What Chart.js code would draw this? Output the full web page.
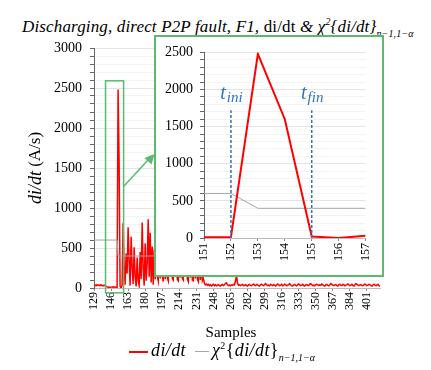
<!DOCTYPE html>
<html>
<head>
<meta charset="utf-8">
<script src="https://cdn.jsdelivr.net/npm/chart.js@4/dist/chart.umd.min.js"></script>
<style>
  body { margin: 0; background: #fff; width: 431px; height: 370px; overflow: hidden; position: relative; font-family: "Liberation Serif", serif; color: #000; }
  .txt { position: absolute; white-space: nowrap; }
  #title { left: 22px; top: 12px; font-size: 17px; line-height: 20px; font-style: italic; letter-spacing: 0.15px; }
  #title .up { font-style: normal; }
  #title sup { font-size: 10px; vertical-align: 7px; }
  #title sub { font-size: 10px; vertical-align: -5px; }
  #mainChart { position: absolute; left: 0; top: 0; }
  #insetBox { position: absolute; left: 154px; top: 35px; width: 230px; height: 242px; box-sizing: border-box; border: 2px solid #5cb96e; background: #fff; }
  #insetChart { position: absolute; left: 0; top: 0; }
  #xTitle { left: 190px; width: 82px; text-align: center; top: 324px; font-size: 15px; line-height: 16px; }
  #legend { left: 129px; top: 336px; font-size: 18px; line-height: 20px; letter-spacing: 0.4px; }
  #legend .ln { display: inline-block; vertical-align: middle; margin-right: 3px; }
  #legend .red { width: 19px; height: 2px; background: #ff0000; }
  #legend .grey { width: 14px; height: 1px; background: #a6a6a6; margin-left: 9px; }
  #legend sup { font-size: 10px; vertical-align: 7px; }
  #legend sub { font-size: 10px; vertical-align: -5px; font-style: italic; letter-spacing: 0; }
</style>
</head>
<body>
<div id="title" class="txt">Discharging, direct P2P fault, F1, <span class="up">di/dt</span> &amp; χ<sup>2</sup>{di/dt}<sub>n−1,1−α</sub></div>
<canvas id="mainChart" width="431" height="370"></canvas>
<div id="insetBox"><canvas id="insetChart" width="226" height="238"></canvas></div>
<div id="xTitle" class="txt">Samples</div>
<div id="legend" class="txt"><span class="ln red"></span><i>di/dt</i><span class="ln grey"></span><i>χ</i><sup>2</sup>{<i>di/dt</i>}<sub>n−1,1−α</sub></div>
<script>
// main chart: di/dt per sample, starting at sample 129
const firstSample = 129;
const mainDidt = [
  // 129-151
  30, 38, 28, 42, 33, 36, 27, 40, 31, 26, 36, 30, 20, 14, 10, 12, 8, 11, 13, 9, 14, 10, 10,
  // 152-157 (fault)
  10, 2480, 1600, 20, 0, 30,
  // 158-240
  810, 280, 40, 430, 180, 760, 330, 30, 640, 260,
  50, 510, 140, 20, 380, 90, 30, 450, 110, 820,
  240, 30, 560, 90, 310, 860, 140, 690, 70, 520,
  40, 480, 110, 620, 150, 90, 540, 120, 700, 160,
  80, 480, 110, 650, 130, 90, 590, 150, 720, 120,
  100, 520, 140, 610, 110, 90, 450, 130, 680, 120,
  100, 560, 140, 500, 110, 80, 620, 130, 470, 100,
  90, 540, 120, 430, 110, 80, 380, 100, 300, 90,
  120, 60, 40,
  // 241-414
  50, 35, 45, 30, 40, 25, 35, 45, 30, 40,
  28, 36, 42, 30, 25, 38, 45, 32, 40, 55,
  65, 40, 30, 35, 28, 40, 33, 45, 38, 90,
  160, 60, 35, 40, 30, 38, 45, 30, 35, 42,
  30, 25, 38, 45, 32, 28, 40, 50, 35, 30,
  45, 38, 30, 25, 40, 48, 35, 30, 42, 55,
  40, 30, 35, 28, 45, 38, 30, 42, 35, 25,
  38, 50, 40, 30, 35, 45, 28, 32, 48, 40,
  30, 35, 42, 55, 38, 30, 25, 40, 45, 33,
  28, 40, 52, 38, 30, 35, 45, 30, 25, 38,
  42, 35, 30, 48, 55, 40, 30, 35, 28, 40,
  45, 38, 30, 42, 35, 50, 40, 30, 25, 38,
  45, 33, 28, 40, 55, 45, 35, 30, 38, 42,
  30, 25, 40, 48, 35, 30, 45, 38, 28, 35,
  42, 50, 38, 30, 35, 45, 30, 25, 40, 55,
  45, 35, 30, 38, 42, 30, 28, 40, 50, 38,
  30, 35, 45, 40, 30, 25, 38, 48, 35, 30,
  40, 45, 30, 20
];
// chi-square threshold: steps from 600 to 400
const chiMain = [
  { x: 129, y: 600 }, { x: 152, y: 600 }, { x: 153, y: 400 }, { x: 414, y: 400 }
];
const mainTicks = [129, 146, 163, 180, 197, 214, 231, 248, 265, 282, 299, 316, 333, 350, 367, 384, 401];

// inset (zoom on the fault)
const insetSamples = [151, 152, 153, 154, 155, 156, 157];
const insetDidt = [10, 10, 2480, 1600, 20, 0, 30];
const insetChi = [600, 600, 400, 400, 400, 400, 400];
const markerSamples = [152, 155];
const markerSubs = ['ini', 'fin'];
const markerTop = 1720;

const green = '#5cb96e';
const serif = '"Liberation Serif", serif';

function fixWidth(w) { return s => { s.width = w; }; }
function fixHeight(h) { return s => { s.height = h; }; }

const yGrid = {
  color: c => (c.tick && c.tick.value % 500 === 0) ? '#e4e4e4' : '#f3f3f3',
  tickColor: '#666',
  tickLength: 4
};

const mainExtras = {
  id: 'mainExtras',
  afterDraw(chart) {
    const { ctx, chartArea, scales: { x, y } } = chart;
    // y axis title
    ctx.save();
    ctx.translate(36, (chartArea.top + chartArea.bottom) / 2);
    ctx.rotate(-Math.PI / 2);
    ctx.fillStyle = '#000';
    ctx.textBaseline = 'middle';
    ctx.textAlign = 'left';
    ctx.font = 'italic 18px ' + serif;
    const wa = ctx.measureText('di/dt').width;
    ctx.font = '17px ' + serif;
    const wb = ctx.measureText(' (A/s)').width;
    const sx = -(wa + wb) / 2;
    ctx.font = 'italic 18px ' + serif;
    ctx.fillText('di/dt', sx, 0);
    ctx.font = '17px ' + serif;
    ctx.fillText(' (A/s)', sx + wa, 0);
    ctx.restore();

    // zoom box round the fault
    ctx.save();
    ctx.strokeStyle = green;
    ctx.lineWidth = 1.5;
    const x0 = x.getPixelForValue(140.5), x1 = x.getPixelForValue(158.5);
    const y0 = y.getPixelForValue(2590), y1 = y.getPixelForValue(-60);
    ctx.strokeRect(x0, y0, x1 - x0, y1 - y0);

    // arrow to the inset
    const ax0 = x1, ay0 = y.getPixelForValue(1270);
    const ax1 = x.getPixelForValue(186.5), ay1 = y.getPixelForValue(1650);
    ctx.beginPath();
    ctx.moveTo(ax0, ay0);
    ctx.lineTo(ax1, ay1);
    ctx.stroke();
    const ang = Math.atan2(ay1 - ay0, ax1 - ax0);
    ctx.fillStyle = green;
    ctx.beginPath();
    ctx.moveTo(ax1 + 3, ay1 - 2);
    ctx.lineTo(ax1 + 3 - 11 * Math.cos(ang - 0.45), ay1 - 2 - 11 * Math.sin(ang - 0.45));
    ctx.lineTo(ax1 + 3 - 11 * Math.cos(ang + 0.45), ay1 - 2 - 11 * Math.sin(ang + 0.45));
    ctx.closePath();
    ctx.fill();
    ctx.restore();
  }
};

new Chart(document.getElementById('mainChart'), {
  type: 'line',
  data: {
    datasets: [
      {
        label: 'χ2',
        data: chiMain,
        borderColor: '#a6a6a6',
        borderWidth: 1,
        pointRadius: 0,
        order: 0
      },
      {
        label: 'di/dt',
        data: mainDidt.map((v, i) => ({ x: firstSample + i, y: v })),
        borderColor: '#ff0000',
        borderWidth: 1.5,
        pointRadius: 0,
        order: 1
      }
    ]
  },
  options: {
    responsive: false,
    animation: false,
    layout: { padding: { left: 0, top: 48, right: 51, bottom: 0 } },
    plugins: { legend: { display: false }, tooltip: { enabled: false } },
    scales: {
      x: {
        type: 'linear',
        min: 129,
        max: 414,
        afterBuildTicks: s => { s.ticks = mainTicks.map(v => ({ value: v })); },
        afterFit: fixHeight(82),
        ticks: { autoSkip: false, minRotation: 90, maxRotation: 90, padding: 1, color: '#000', font: { family: serif, size: 12 } },
        grid: { drawOnChartArea: false, tickLength: 3, tickColor: '#888' },
        border: { color: '#bbb' }
      },
      y: {
        min: 0,
        max: 3000,
        afterFit: fixWidth(94),
        ticks: { stepSize: 100, autoSkip: false, padding: 8, color: '#000', font: { family: serif, size: 14 },
          callback: v => (v % 500 === 0 ? v : '') },
        grid: yGrid,
        border: { color: '#666' }
      }
    }
  },
  plugins: [mainExtras]
});

const insetExtras = {
  id: 'insetExtras',
  afterDatasetsDraw(chart) {
    const { ctx, scales: { x, y } } = chart;
    ctx.save();
    markerSamples.forEach((s, i) => {
      const px = x.getPixelForValue(s);
      const top = y.getPixelForValue(markerTop);
      ctx.strokeStyle = '#2e75b6';
      ctx.lineWidth = 1.5;
      ctx.setLineDash([3, 2]);
      ctx.beginPath();
      ctx.moveTo(px, y.getPixelForValue(0));
      ctx.lineTo(px, top);
      ctx.stroke();
      ctx.setLineDash([]);
      // t_ini / t_fin
      ctx.fillStyle = '#2e75b6';
      ctx.textBaseline = 'alphabetic';
      ctx.textAlign = 'left';
      ctx.font = 'italic 20px ' + serif;
      const wt = ctx.measureText('t').width;
      ctx.font = 'italic 15px ' + serif;
      const ws = ctx.measureText(markerSubs[i]).width;
      const lx = px - (wt + ws) / 2;
      ctx.font = 'italic 20px ' + serif;
      ctx.fillText('t', lx, top - 11);
      ctx.font = 'italic 15px ' + serif;
      ctx.fillText(markerSubs[i], lx + wt + 1, top - 8);
    });
    ctx.restore();
  }
};

new Chart(document.getElementById('insetChart'), {
  type: 'line',
  data: {
    labels: insetSamples,
    datasets: [
      {
        label: 'χ2',
        data: insetChi,
        borderColor: '#a6a6a6',
        borderWidth: 1,
        pointRadius: 0,
        order: 1
      },
      {
        label: 'di/dt',
        data: insetDidt,
        borderColor: '#ff0000',
        borderWidth: 2,
        pointRadius: 0,
        order: 0
      }
    ]
  },
  options: {
    responsive: false,
    animation: false,
    layout: { padding: { left: 0, top: 12, right: 10, bottom: 0 } },
    plugins: { legend: { display: false }, tooltip: { enabled: false } },
    scales: {
      x: {
        type: 'linear',
        min: 151,
        max: 157,
        afterBuildTicks: s => { s.ticks = insetSamples.map(v => ({ value: v })); },
        afterFit: fixHeight(37),
        ticks: { autoSkip: false, minRotation: 90, maxRotation: 90, padding: 2, color: '#000', font: { family: serif, size: 12 } },
        grid: { drawOnChartArea: false, tickLength: 3, tickColor: '#888' },
        border: { color: '#bbb' }
      },
      y: {
        min: 0,
        max: 2500,
        afterFit: fixWidth(48),
        ticks: { stepSize: 100, autoSkip: false, padding: 7, color: '#000', font: { family: serif, size: 14 },
          callback: v => (v % 500 === 0 ? v : '') },
        grid: yGrid,
        border: { color: '#666' }
      }
    }
  },
  plugins: [insetExtras]
});
</script>
</body>
</html>
